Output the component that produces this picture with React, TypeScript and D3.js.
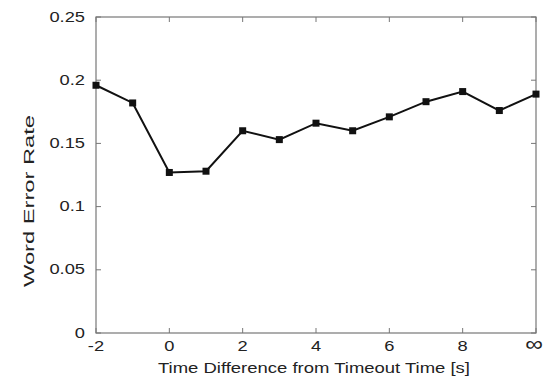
import React from "react";
import * as d3 from "d3";

const xVals = [-2, -1, 0, 1, 2, 3, 4, 5, 6, 7, 8, 9, 10];
const werVals = [0.196, 0.182, 0.127, 0.128, 0.16, 0.153, 0.166, 0.16, 0.171, 0.183, 0.191, 0.176, 0.189];
const xTicks = [-2, 0, 2, 4, 6, 8, 10];
const xTickLabels = ["-2", "0", "2", "4", "6", "8", "∞"];
const yTicks = [0, 0.05, 0.1, 0.15, 0.2, 0.25];

export default function App() {
  const W = 549, H = 381;
  const m = { left: 96, right: 13, top: 17, bottom: 48 };
  const x = d3.scaleLinear().domain([-2, 10]).range([m.left, W - m.right]);
  const y = d3.scaleLinear().domain([0, 0.25]).range([H - m.bottom, m.top]);
  const line = d3.line<number>().x((_, i) => x(xVals[i])).y((d) => y(d));
  const axisCol = "#777";
  const tk = 5;
  const font = "Liberation Sans, Arial, sans-serif";
  const sx = 1.18; // the reference text is a bit stretched horizontally

  return (
    <svg width={W} height={H} style={{ position: "absolute", left: 0, top: 0, background: "#fff" }}>
      <rect x={x(-2)} y={y(0.25)} width={x(10) - x(-2)} height={y(0) - y(0.25)} fill="none" stroke={axisCol} strokeWidth={1.2} />
      {xTicks.map((t, i) => (
        <g key={"x" + t}>
          <line x1={x(t)} x2={x(t)} y1={y(0)} y2={y(0) - tk} stroke={axisCol} />
          <line x1={x(t)} x2={x(t)} y1={y(0.25)} y2={y(0.25) + tk} stroke={axisCol} />
          <text transform={`translate(${x(t) - (i === xTicks.length - 1 ? 2 : 0)},351) scale(${sx},1)`} textAnchor="middle" fontFamily={font} fontSize={i === xTicks.length - 1 ? 21 : 15.5} fill="#222">
            {xTickLabels[i]}
          </text>
        </g>
      ))}
      {yTicks.map((t) => (
        <g key={"y" + t}>
          <line x1={x(-2)} x2={x(-2) + tk} y1={y(t)} y2={y(t)} stroke={axisCol} />
          <line x1={x(10)} x2={x(10) - tk} y1={y(t)} y2={y(t)} stroke={axisCol} />
          <text transform={`translate(85,${y(t) + 4.5}) scale(${sx},1)`} textAnchor="end" fontFamily={font} fontSize={15.5} fill="#222">
            {String(t)}
          </text>
        </g>
      ))}
      <path d={line(werVals) ?? ""} fill="none" stroke="#111" strokeWidth={2} />
      {werVals.map((v, i) => (
        <rect key={i} x={x(xVals[i]) - 3.5} y={y(v) - 3.5} width={7} height={7} fill="#111" />
      ))}
      <text x={314} y={373} textAnchor="middle" fontFamily={font} fontSize={15.5} fill="#222" textLength={312} lengthAdjust="spacingAndGlyphs">
        Time Difference from Timeout Time [s]
      </text>
      <text transform={`translate(34,201) rotate(-90)`} textAnchor="middle" fontFamily={font} fontSize={14.5} fill="#222" textLength={172} lengthAdjust="spacingAndGlyphs">
        Word Error Rate
      </text>
    </svg>
  );
}
